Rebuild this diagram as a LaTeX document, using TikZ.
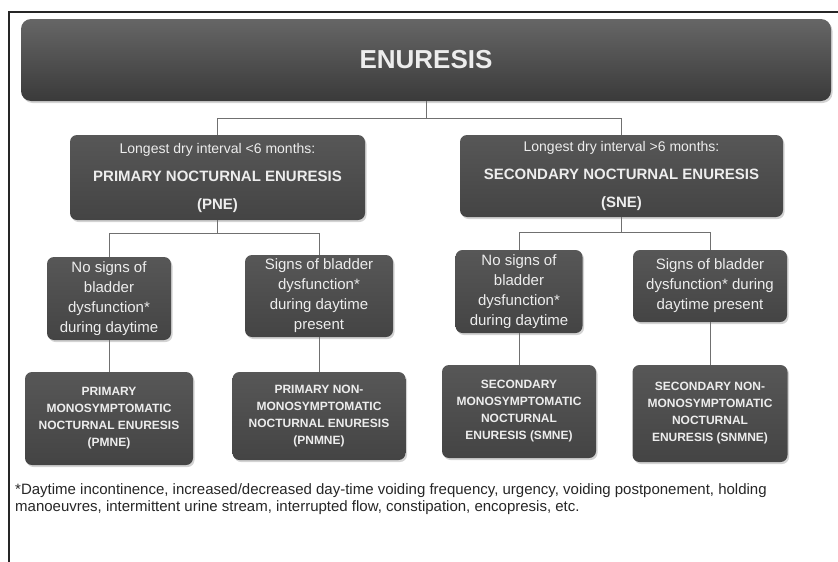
\documentclass[tikz,border=0pt]{standalone}
\usepackage{fontspec}
\setmainfont{Liberation Sans}
\usetikzlibrary{shadows}
\definecolor{boxgrey}{HTML}{444444}
\definecolor{boxtop}{HTML}{575757}
\definecolor{titletop}{HTML}{666666}
\definecolor{titlebot}{HTML}{3A3A3A}
\definecolor{wiregrey}{HTML}{707070}
\newcommand{\kindline}[1]{{\fontsize{15}{28}\selectfont\bfseries #1}}
\tikzset {
  % every box of the chart
  box/.style = {rounded corners=7pt, inner sep=0pt, align=center,
    top color=boxtop, bottom color=boxgrey, text=white!93!black,
    drop shadow={shadow xshift=1.5pt, shadow yshift=-2pt, opacity=.35}},
  % the banner on top
  banner/.style = {box, rounded corners=10pt, top color=titletop, bottom color=titlebot,
    font=\fontsize{26}{30}\selectfont\bfseries},
  % primary / secondary
  kind/.style = {box, font=\fontsize{14}{28}\selectfont},
  % signs during daytime
  sign/.style = {box, font=\fontsize{15}{20}\selectfont},
  % the diagnosis
  diag/.style = {box, font=\fontsize{12}{17}\selectfont\bfseries},
  % lines between boxes
  wire/.style = {draw=wiregrey, line width=0.8pt},
}
\begin{document}
\begin{tikzpicture}[x=1pt, y=-1pt]
  \useasboundingbox (0,0) rectangle (838,562);
  \draw[line width=2pt, black!85] (9,562) -- (9,12) -- (838,12);

  \node[banner, minimum width=810, minimum height=82] (enu) at (426,60) {ENURESIS};

  \node[kind, minimum width=295, minimum height=85] (pne) at (217.5,177.5)
    {Longest dry interval <6 months:\\ \kindline{PRIMARY NOCTURNAL ENURESIS}\\ \kindline{(PNE)}};
  \node[kind, minimum width=323, minimum height=82] (sne) at (621.5,176)
    {Longest dry interval >6 months:\\ \kindline{SECONDARY NOCTURNAL ENURESIS}\\ \kindline{(SNE)}};

  \node[sign, minimum width=124, minimum height=83] (pno) at (109,298.5)
    {No signs of\\ bladder\\ dysfunction*\\ during daytime};
  \node[sign, minimum width=148, minimum height=82] (pyes) at (319,296)
    {Signs of bladder\\ dysfunction*\\ during daytime\\ present};
  \node[sign, minimum width=127, minimum height=83] (sno) at (519,291.5)
    {No signs of\\ bladder\\ dysfunction*\\ during daytime};
  \node[sign, minimum width=154, minimum height=72] (syes) at (710,286)
    {Signs of bladder\\ dysfunction* during\\ daytime present};

  \node[diag, minimum width=168, minimum height=93] (pmne) at (109,418.5)
    {PRIMARY\\ MONOSYMPTOMATIC\\ NOCTURNAL ENURESIS\\ (PMNE)};
  \node[diag, minimum width=173, minimum height=88] (pnmne) at (319,416)
    {PRIMARY NON-\\ MONOSYMPTOMATIC\\ NOCTURNAL ENURESIS\\ (PNMNE)};
  \node[diag, minimum width=154, minimum height=93] (smne) at (519,411.5)
    {SECONDARY\\ MONOSYMPTOMATIC\\ NOCTURNAL\\ ENURESIS (SMNE)};
  \node[diag, minimum width=155, minimum height=97] (snmne) at (710,413.5)
    {SECONDARY NON-\\ MONOSYMPTOMATIC\\ NOCTURNAL\\ ENURESIS (SNMNE)};

  \coordinate (fork) at (426,118);
  \coordinate (pfork) at (217.5,233);
  \coordinate (sfork) at (621.5,232);

  \draw[wire] (enu.south) -- (fork) -| (pne.north);
  \draw[wire] (fork) -| (sne.north);
  \draw[wire] (pne.south) -- (pfork) -| (pno.north);
  \draw[wire] (pfork) -| (pyes.north);
  \draw[wire] (sne.south) -- (sfork) -| (sno.north);
  \draw[wire] (sfork) -| (syes.north);
  \draw[wire] (pno.south) -- (pmne.north);
  \draw[wire] (pyes.south) -- (pnmne.north);
  \draw[wire] (sno.south) -- (smne.north);
  \draw[wire] (syes.south) -- (snmne.north);

  \node[anchor=north west, inner sep=0pt, align=left, text=black!85,
    font=\fontsize{15}{17.5}\selectfont] (note) at (15,483)
    {*Daytime incontinence, increased/decreased day-time voiding frequency, urgency, voiding postponement, holding\\
     manoeuvres, intermittent urine stream, interrupted flow, constipation, encopresis, etc.};
\end{tikzpicture}
\end{document}
